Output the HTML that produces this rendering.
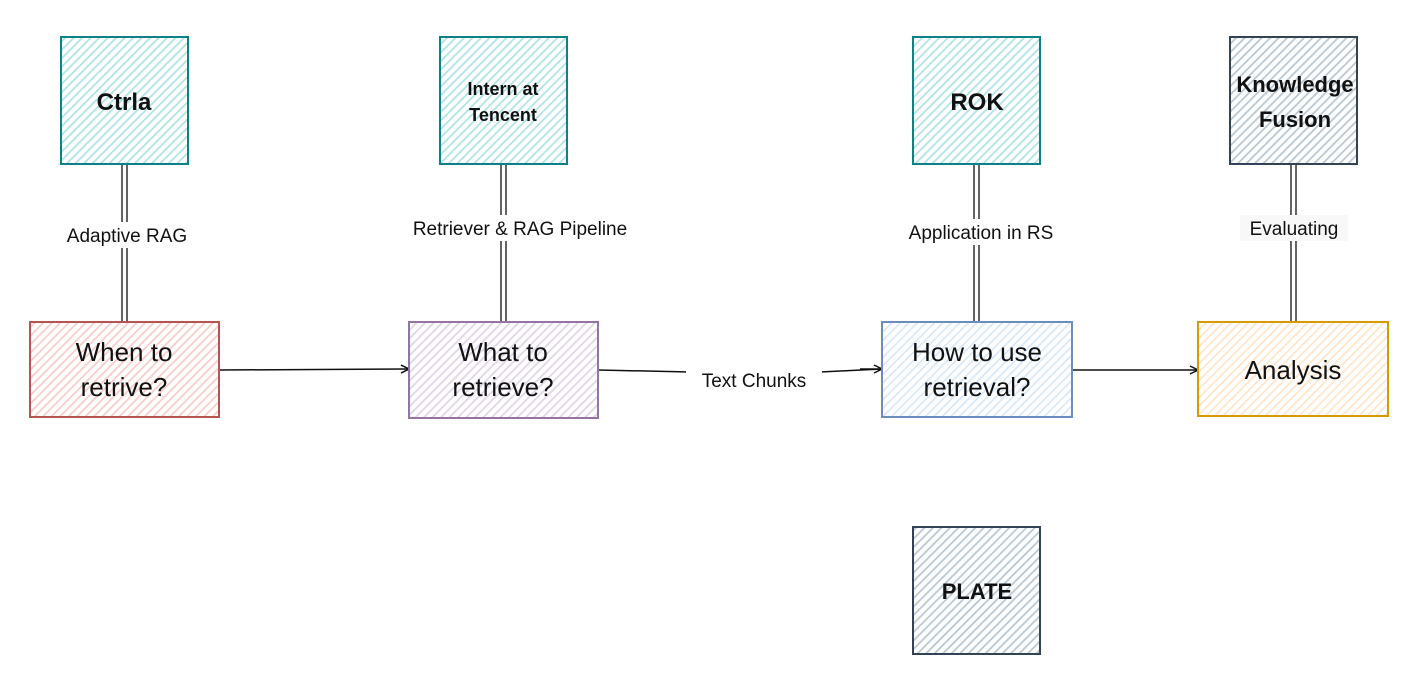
<!DOCTYPE html>
<html><head><meta charset="utf-8"><style>
html,body{margin:0;padding:0;background:#fff;width:1412px;height:686px;overflow:hidden}
text{font-family:"Liberation Sans",sans-serif;fill:#111}
</style></head><body>
<svg width="1412" height="686" viewBox="0 0 1412 686" xmlns="http://www.w3.org/2000/svg">
<defs>
<pattern id="pt" width="6" height="6" patternUnits="userSpaceOnUse" patternTransform="rotate(-45)"><rect width="6" height="6" fill="#fff"/><rect width="6" height="1.8" fill="#b0e3e6"/></pattern>
<pattern id="pr" width="6" height="6" patternUnits="userSpaceOnUse" patternTransform="rotate(-45)"><rect width="6" height="6" fill="#fff"/><rect width="6" height="1.8" fill="#f8cecc"/></pattern>
<pattern id="pp" width="6" height="6" patternUnits="userSpaceOnUse" patternTransform="rotate(-45)"><rect width="6" height="6" fill="#fff"/><rect width="6" height="1.8" fill="#e1d5e7"/></pattern>
<pattern id="pb" width="6" height="6" patternUnits="userSpaceOnUse" patternTransform="rotate(-45)"><rect width="6" height="6" fill="#fff"/><rect width="6" height="1.8" fill="#dae8fc"/></pattern>
<pattern id="po" width="6" height="6" patternUnits="userSpaceOnUse" patternTransform="rotate(-45)"><rect width="6" height="6" fill="#fff"/><rect width="6" height="1.8" fill="#ffe6cc"/></pattern>
<pattern id="pg" width="6" height="6" patternUnits="userSpaceOnUse" patternTransform="rotate(-45)"><rect width="6" height="6" fill="#fff"/><rect width="6" height="1.8" fill="#bac8d3"/></pattern>
<marker id="ar" markerWidth="10" markerHeight="10" refX="9" refY="5" orient="auto" markerUnits="userSpaceOnUse"><path d="M1,1 L9,5 L1,9" fill="none" stroke="#111" stroke-width="1.5"/></marker>
</defs>
<g stroke="#111" stroke-width="1.3">
<line x1="122" y1="164" x2="122" y2="322"/><line x1="127" y1="164" x2="127" y2="322"/>
<line x1="501" y1="164" x2="501" y2="322"/><line x1="506" y1="164" x2="506" y2="322"/>
<line x1="974" y1="164" x2="974" y2="322"/><line x1="979" y1="164" x2="979" y2="322"/>
<line x1="1291" y1="164" x2="1291" y2="322"/><line x1="1296" y1="164" x2="1296" y2="322"/>
</g>
<g stroke="#111" stroke-width="1.5" fill="none">
<path d="M219,370 L409,369" marker-end="url(#ar)"/>
<path d="M598,370 L690,372 M820,372 L882,369" />
<path d="M860,369 L882,369" marker-end="url(#ar)"/>
<path d="M1072,370 L1198,370" marker-end="url(#ar)"/>
</g>
<g stroke-width="2">
<rect x="61" y="37" width="127" height="127" fill="url(#pt)" stroke="#0e8088"/>
<rect x="440" y="37" width="127" height="127" fill="url(#pt)" stroke="#0e8088"/>
<rect x="913" y="37" width="127" height="127" fill="url(#pt)" stroke="#0e8088"/>
<rect x="1230" y="37" width="127" height="127" fill="url(#pg)" stroke="#314354"/>
<rect x="913" y="527" width="127" height="127" fill="url(#pg)" stroke="#314354"/>
<rect x="30" y="322" width="189" height="95" fill="url(#pr)" stroke="#b85450"/>
<rect x="409" y="322" width="189" height="96" fill="url(#pp)" stroke="#9673a6"/>
<rect x="882" y="322" width="190" height="95" fill="url(#pb)" stroke="#6c8ebf"/>
<rect x="1198" y="322" width="190" height="94" fill="url(#po)" stroke="#d79b00"/>
</g>
<g fill="#fff">
<rect x="52" y="222" width="150" height="26"/>
<rect x="382" y="215" width="278" height="26"/>
<rect x="890" y="219" width="182" height="26"/>
<rect x="1240" y="215" width="108" height="26" fill="#f8f8f8"/>
<rect x="686" y="368" width="136" height="24"/>
</g>
<g text-anchor="middle">
<text x="124" y="110" font-size="24" font-weight="bold">Ctrla</text>
<text x="503" y="95" font-size="18" font-weight="bold">Intern at</text>
<text x="503" y="121" font-size="18" font-weight="bold">Tencent</text>
<text x="977" y="110" font-size="24" font-weight="bold">ROK</text>
<text x="1295" y="92" font-size="22" font-weight="bold">Knowledge</text>
<text x="1295" y="127" font-size="22" font-weight="bold">Fusion</text>
<text x="977" y="599" font-size="22" font-weight="bold">PLATE</text>
<text x="124" y="361" font-size="26">When to</text>
<text x="124" y="396" font-size="26">retrive?</text>
<text x="503" y="361" font-size="26">What to</text>
<text x="503" y="396" font-size="26">retrieve?</text>
<text x="977" y="361" font-size="26">How to use</text>
<text x="977" y="396" font-size="26">retrieval?</text>
<text x="1293" y="379" font-size="26">Analysis</text>
<text x="127" y="242" font-size="19">Adaptive RAG</text>
<text x="520" y="235" font-size="19">Retriever &amp; RAG Pipeline</text>
<text x="981" y="239" font-size="19">Application in RS</text>
<text x="1294" y="235" font-size="19">Evaluating</text>
<text x="754" y="387" font-size="19">Text Chunks</text>
</g>
</svg>
</body></html>
